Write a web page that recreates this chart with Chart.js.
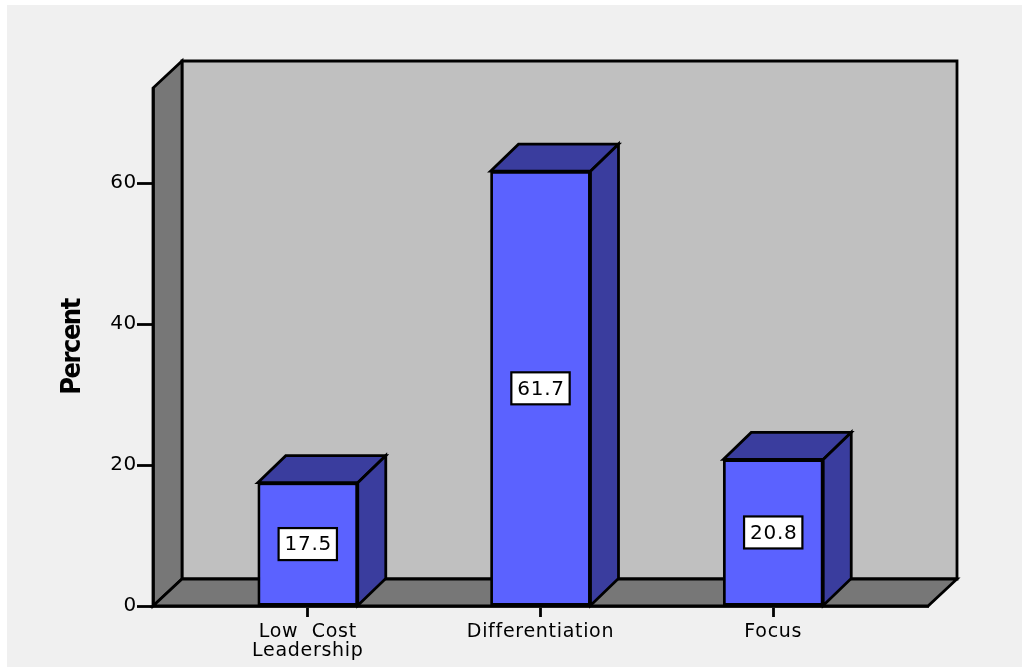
<!DOCTYPE html>
<html>
<head>
<meta charset="utf-8">
<script src="https://cdn.jsdelivr.net/npm/chart.js@4.4.1/dist/chart.umd.min.js"></script>
<style>
body { margin: 0; background: #fff; }
#wrap { width: 1022px; height: 667px; }
</style>
</head>
<body>
<div id="wrap"><canvas id="strategyChart"></canvas></div>
<script>
// data
const categories = [["Low  Cost", "Leadership"], "Differentiation", "Focus"];
const percents = [17.5, 61.7, 20.8];
const yTicks = [0, 20, 40, 60];

const frontColor = "#5b62ff";
const darkColor = "#3a3d9e";
const wallDX = 29, wallDY = -27;   // depth of the walls
const barDX = 28, barDY = -27;     // depth of the bars
const edge = 2.8;
const textSpacing = "0.7px";
const titleSpacing = "-1.5px";

function poly(ctx, pts, fill) {
    ctx.beginPath();
    ctx.moveTo(pts[0][0], pts[0][1]);
    for (let i = 1; i < pts.length; i++) ctx.lineTo(pts[i][0], pts[i][1]);
    ctx.closePath();
    ctx.fillStyle = fill;
    ctx.fill();
    ctx.stroke();
}

// background, back wall, left wall and floor
const walls = {
    id: 'walls',
    beforeDraw(chart) {
        const ctx = chart.ctx;
        const l = chart.chartArea.left, r = chart.chartArea.right;
        const t = chart.chartArea.top, b = chart.chartArea.bottom;
        ctx.save();
        ctx.fillStyle = "#ffffff";
        ctx.fillRect(0, 0, chart.width, chart.height);
        ctx.fillStyle = "#f0f0f0";
        ctx.fillRect(7, 5, chart.width - 7, chart.height - 5);
        ctx.lineWidth = edge;
        ctx.strokeStyle = "#000";
        ctx.lineJoin = "miter";
        poly(ctx, [[l + wallDX, t + wallDY], [r + wallDX, t + wallDY], [r + wallDX, b + wallDY], [l + wallDX, b + wallDY]], "#c0c0c0");
        poly(ctx, [[l, b], [l, t], [l + wallDX, t + wallDY], [l + wallDX, b + wallDY]], "#777777");
        poly(ctx, [[l, b], [r, b], [r + wallDX, b + wallDY], [l + wallDX, b + wallDY]], "#777777");
        ctx.restore();
        ctx.letterSpacing = textSpacing;
    },
    afterDatasetsDraw(chart) {
        const ctx = chart.ctx;
        const meta = chart.getDatasetMeta(0);
        ctx.save();
        ctx.lineWidth = edge;
        ctx.strokeStyle = "#000";
        meta.data.forEach(function (bar, i) {
            const left = bar.x - bar.width / 2, right = bar.x + bar.width / 2;
            const top = bar.y, base = bar.base;
            poly(ctx, [[left, top], [left + barDX, top + barDY], [right + barDX, top + barDY], [right, top]], darkColor);
            poly(ctx, [[right, top], [right + barDX, top + barDY], [right + barDX, base + barDY], [right, base]], darkColor);

            // value box in the middle of the front face
            const txt = percents[i].toFixed(1);
            ctx.font = "20px 'DejaVu Sans'";
            const w = ctx.measureText(txt).width + 11;
            const h = 32;
            const cy = (top + base) / 2;
            ctx.fillStyle = "#fff";
            ctx.fillRect(bar.x - w / 2, cy - h / 2, w, h);
            ctx.lineWidth = 2.2;
            ctx.strokeRect(bar.x - w / 2, cy - h / 2, w, h);
            ctx.lineWidth = edge;
            ctx.fillStyle = "#000";
            ctx.textAlign = "center";
            ctx.textBaseline = "middle";
            ctx.fillText(txt, bar.x + 0.5, cy + 1);
        });
        ctx.restore();
        // the y title layer is drawn after this, squeeze it a bit
        ctx.letterSpacing = titleSpacing;
    }
};

const ctx = document.getElementById('strategyChart').getContext('2d');
const strategyChart = new Chart(ctx, {
    type: 'bar',
    data: {
        datasets: [{
            data: percents.map((v, i) => ({ x: i, y: v })),
            backgroundColor: frontColor,
            borderColor: "#000",
            borderWidth: edge,
            borderSkipped: false,
            barThickness: 100
        }]
    },
    plugins: [walls],
    options: {
        responsive: true,
        maintainAspectRatio: false,
        animation: false,
        layout: { padding: { left: 0, top: 88, right: 94, bottom: 0 } },
        plugins: { legend: { display: false }, tooltip: { enabled: false } },
        scales: {
            x: {
                type: 'linear',
                offset: false,
                min: -0.665,
                max: 2.665,
                afterBuildTicks: s => { s.ticks = categories.map((c, i) => ({ value: i })); },
                afterFit: s => { s.height = 61; },
                grid: { offset: false, drawOnChartArea: false, drawTicks: true, tickLength: 11, tickWidth: edge, tickColor: "#000" },
                border: { display: true, color: "#000", width: edge },
                ticks: {
                    padding: 6,
                    maxRotation: 0,
                    color: "#000",
                    font: { family: "'DejaVu Sans'", size: 19, lineHeight: 1.0 },
                    callback: v => categories[v]
                }
            },
            y: {
                min: 0,
                max: 73.5,
                afterBuildTicks: s => { s.ticks = yTicks.map(v => ({ value: v })); },
                afterFit: s => { s.width = 153; },
                grid: { z: 1, drawOnChartArea: false, drawTicks: true, tickLength: 16, tickWidth: edge, tickColor: "#000" },
                border: { z: 1, display: true, color: "#000", width: edge },
                ticks: {
                    padding: 0,
                    color: "#000",
                    font: { family: "'DejaVu Sans'", size: 20 }
                },
                title: {
                    display: true,
                    text: 'Percent',
                    color: "#000",
                    padding: { top: 57 },
                    font: { family: "'Liberation Sans Narrow', 'DejaVu Sans Condensed', sans-serif", size: 27, weight: 'bold' }
                }
            }
        }
    }
});
</script>
</body>
</html>
